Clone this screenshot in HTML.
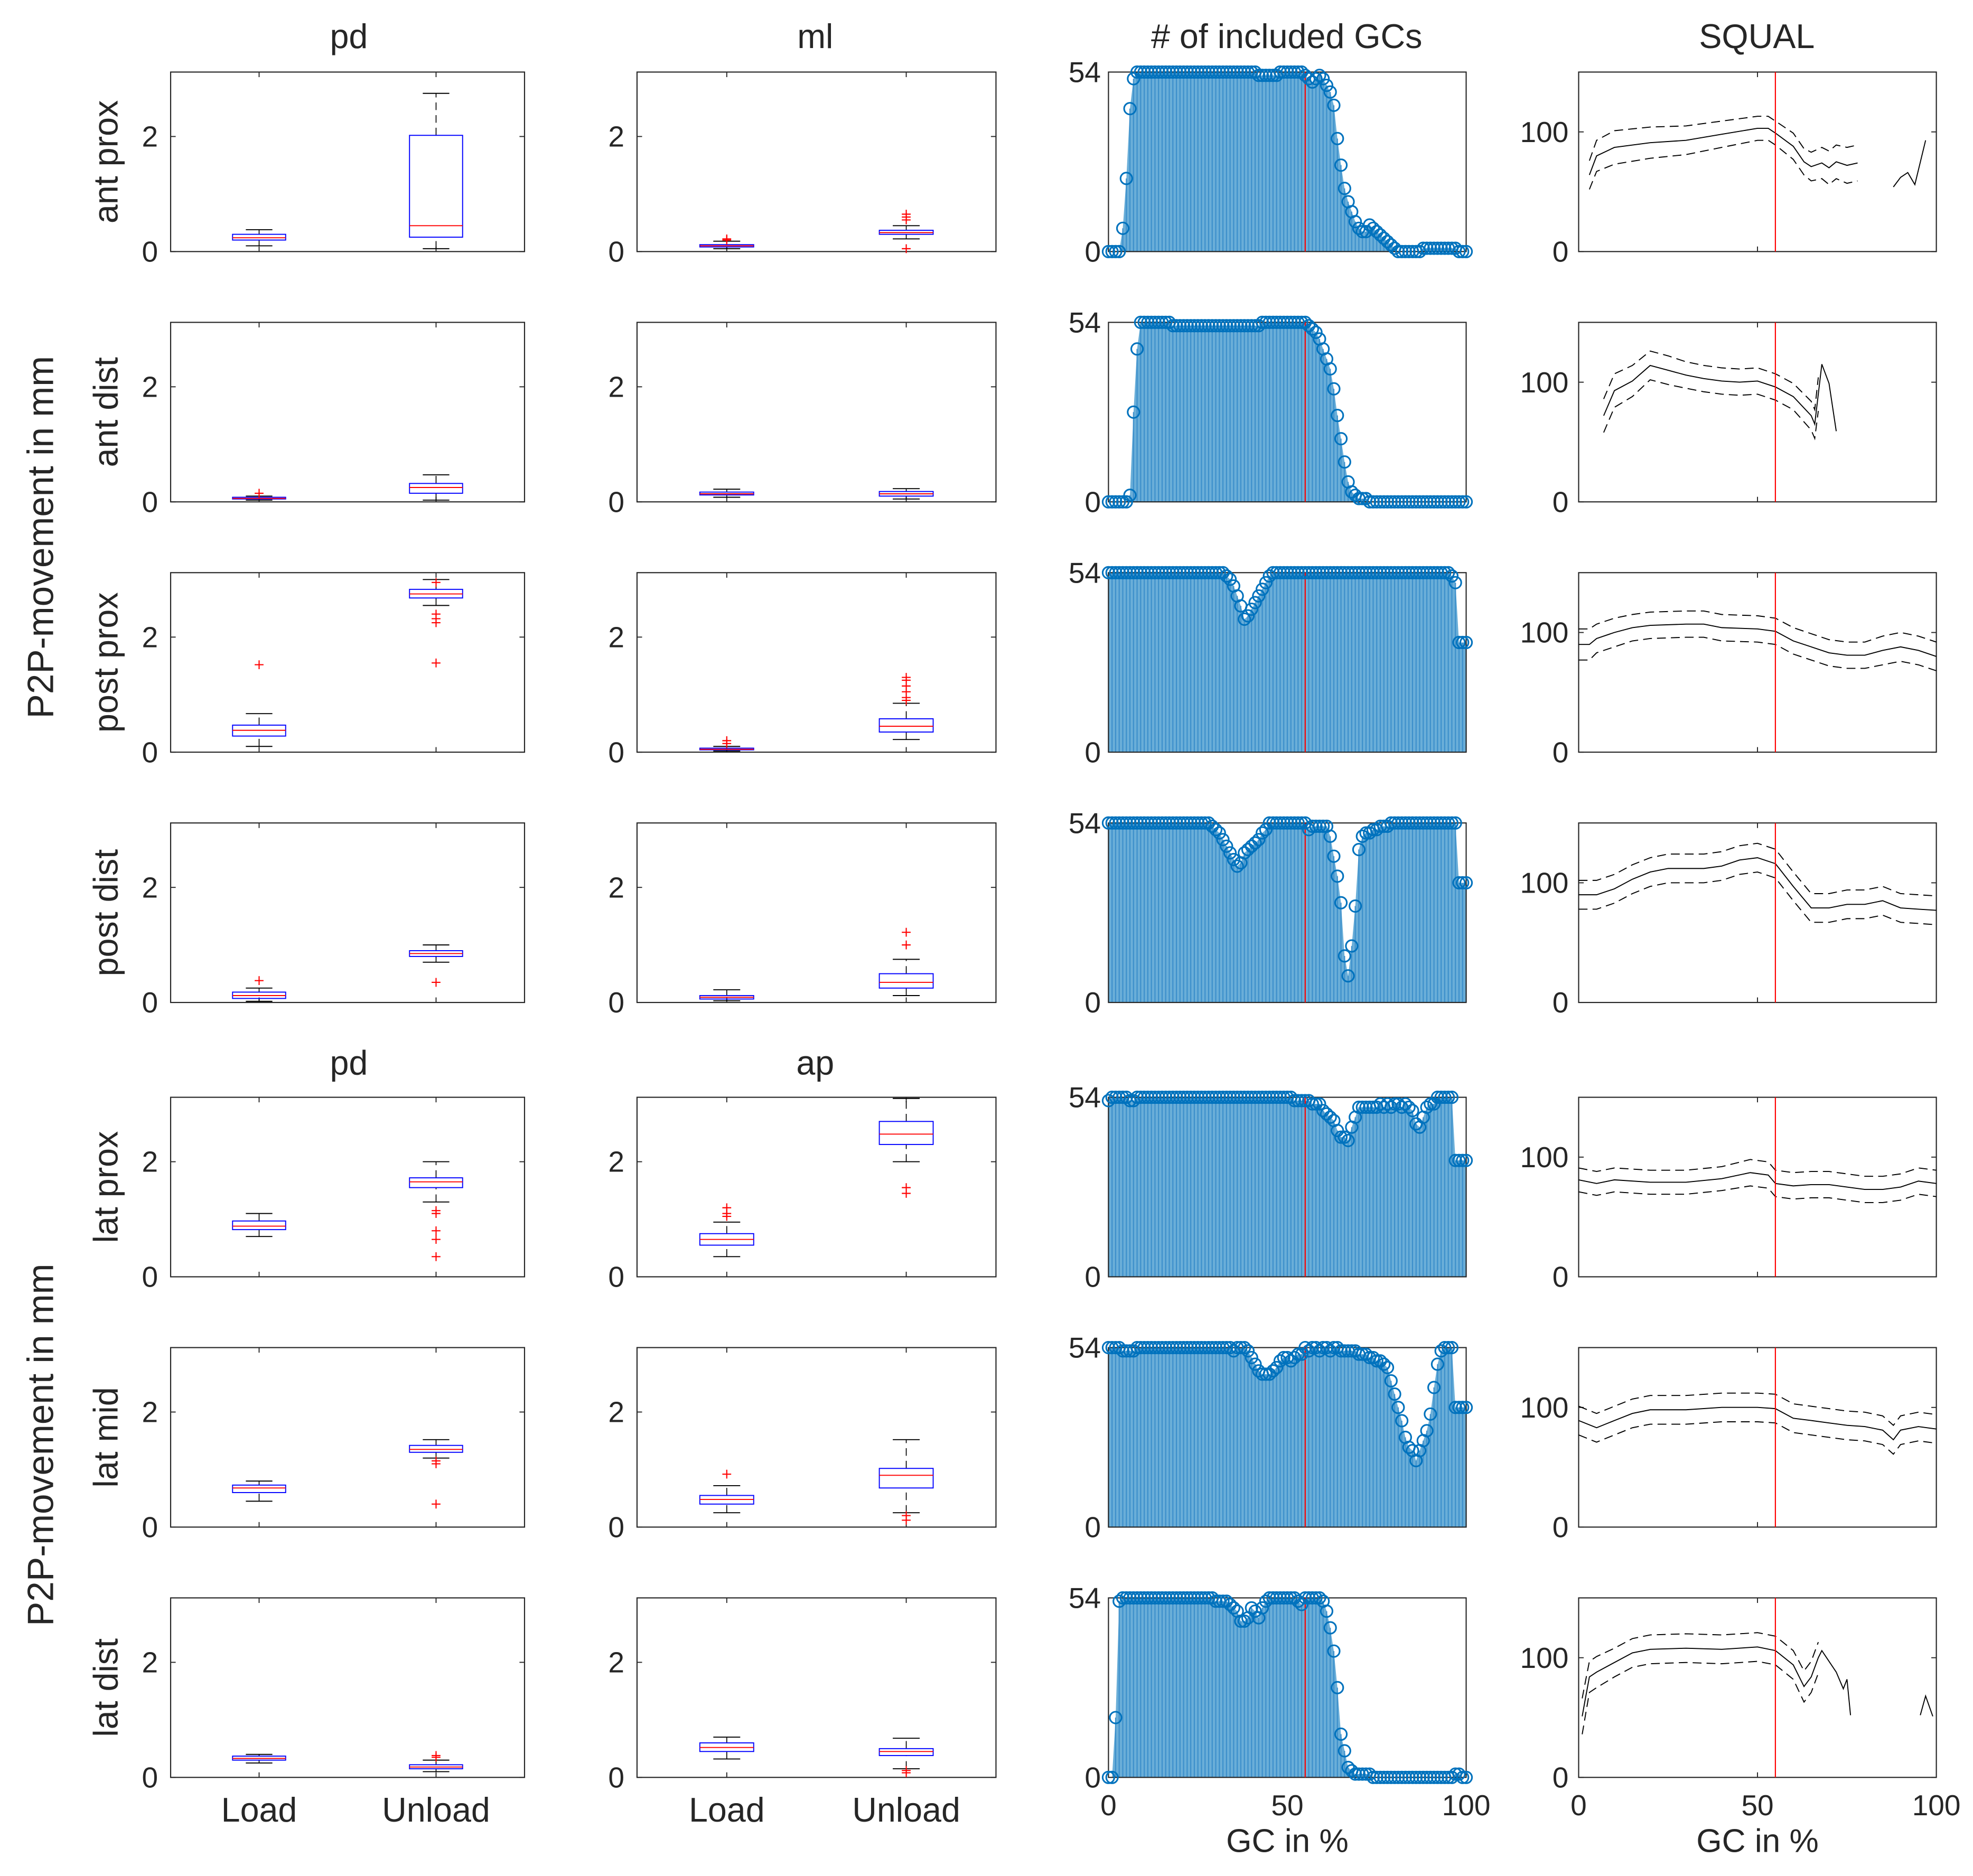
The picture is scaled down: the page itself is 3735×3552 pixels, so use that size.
<!DOCTYPE html>
<html><head><meta charset="utf-8"><style>
html,body{margin:0;padding:0;background:#fff;}
svg{display:block;}
text{font-family:"Liberation Sans",sans-serif;fill:#262626;}
</style></head><body>
<svg id="fig" xmlns="http://www.w3.org/2000/svg" width="3735" height="3552" viewBox="0 0 1561 1484" preserveAspectRatio="none"></svg>
<script>
// ---------- DATA ----------
const boxGroups = ["Load","Unload"];
const boxRowLabels = ["ant prox","ant dist","post prox","post dist","lat prox","lat mid","lat dist"];
// each entry: [lowWhisker, q1, median, q3, highWhisker]
const boxCol1Stats = [
 [[0.10,0.20,0.24,0.30,0.38],[0.05,0.25,0.45,2.02,2.75]],
 [[0.03,0.05,0.06,0.08,0.10],[0.03,0.15,0.25,0.32,0.47]],
 [[0.10,0.28,0.38,0.47,0.67],[2.55,2.68,2.75,2.83,3.00]],
 [[0.02,0.07,0.12,0.18,0.25],[0.70,0.80,0.85,0.90,1.00]],
 [[0.70,0.82,0.88,0.97,1.10],[1.30,1.55,1.65,1.72,2.00]],
 [[0.45,0.60,0.68,0.73,0.80],[1.20,1.30,1.35,1.42,1.52]],
 [[0.25,0.30,0.33,0.37,0.40],[0.10,0.15,0.18,0.22,0.30]]
];
const boxCol1Outliers = [
 [[],[]],[[0.15],[]],[[1.52],[1.55,2.25,2.32,2.40,2.95]],[[0.38],[0.35]],
 [[],[0.35,0.65,0.80,1.10,1.15]],[[],[0.40,1.10,1.15]],[[],[0.35,0.38]]
];
const boxCol2Stats = [
 [[0.05,0.08,0.10,0.12,0.18],[0.22,0.30,0.33,0.37,0.45]],
 [[0.08,0.12,0.14,0.17,0.22],[0.05,0.10,0.14,0.18,0.23]],
 [[0.02,0.04,0.05,0.07,0.10],[0.22,0.35,0.45,0.58,0.85]],
 [[0.03,0.06,0.09,0.12,0.22],[0.12,0.25,0.35,0.50,0.75]],
 [[0.35,0.55,0.65,0.75,0.95],[2.00,2.30,2.48,2.70,3.10]],
 [[0.25,0.40,0.48,0.55,0.72],[0.25,0.68,0.90,1.02,1.52]],
 [[0.32,0.45,0.52,0.60,0.70],[0.15,0.38,0.45,0.50,0.68]]
];
const boxCol2Outliers = [
 [[0.20,0.22],[0.05,0.55,0.60,0.65]],[[],[]],[[0.15,0.20],[0.90,0.95,1.05,1.15,1.25,1.30]],
 [[],[1.00,1.22]],[[1.05,1.10,1.20],[1.45,1.55]],[[0.92],[0.12,0.20]],[[],[0.08,0.12]]
];
const boxYTicks = [0,2];
// number of included GCs, index = GC % (0..100)
const gcRow1 = [0,0,0,0,7,22,43,52,54,54,54,54,54,54,54,54,54,54,54,54,54,54,54,54,54,54,54,54,54,54,54,54,54,54,54,54,54,54,54,54,54,54,53,53,53,53,53,53,54,54,54,54,54,54,54,53,52,51,52,53,52,50,48,44,34,26,19,15,12,9,7,6,6,8,7,6,5,4,3,2,1,0,0,0,0,0,0,0,1,1,1,1,1,1,1,1,1,1,0,0,0];
const gcRow2 = [0,0,0,0,0,0,2,27,46,54,54,54,54,54,54,54,54,54,53,53,53,53,53,53,53,53,53,53,53,53,53,53,53,53,53,53,53,53,53,53,53,53,53,54,54,54,54,54,54,54,54,54,54,54,54,54,53,52,51,49,46,43,40,34,26,19,12,6,3,2,1,1,1,0,0,0,0,0,0,0,0,0,0,0,0,0,0,0,0,0,0,0,0,0,0,0,0,0,0,0,0];
const gcRow3 = [54,54,54,54,54,54,54,54,54,54,54,54,54,54,54,54,54,54,54,54,54,54,54,54,54,54,54,54,54,54,54,54,54,53,52,50,47,44,40,41,43,45,47,49,51,53,54,54,54,54,54,54,54,54,54,54,54,54,54,54,54,54,54,54,54,54,54,54,54,54,54,54,54,54,54,54,54,54,54,54,54,54,54,54,54,54,54,54,54,54,54,54,54,54,54,54,53,51,33,33,33];
const gcRow4 = [54,54,54,54,54,54,54,54,54,54,54,54,54,54,54,54,54,54,54,54,54,54,54,54,54,54,54,54,54,53,52,51,49,47,45,43,41,42,45,46,47,48,49,51,52,54,54,54,54,54,54,54,54,54,54,54,52,53,53,53,53,53,50,44,38,30,14,8,17,29,46,50,51,51,52,52,53,53,53,54,54,54,54,54,54,54,54,54,54,54,54,54,54,54,54,54,54,54,36,36,36];
const gcRow5 = [53,54,54,54,54,54,53,53,54,54,54,54,54,54,54,54,54,54,54,54,54,54,54,54,54,54,54,54,54,54,54,54,54,54,54,54,54,54,54,54,54,54,54,54,54,54,54,54,54,54,54,54,53,53,53,53,53,52,52,52,50,49,48,47,44,42,42,41,45,48,51,51,51,51,51,51,52,51,52,51,52,52,51,52,51,50,46,45,48,51,52,52,54,54,54,54,54,35,35,35,35];
const gcRow6 = [54,54,54,54,53,53,53,53,54,54,54,54,54,54,54,54,54,54,54,54,54,54,54,54,54,54,54,54,54,54,54,54,54,54,54,53,54,54,54,53,51,49,47,46,46,46,47,48,50,51,51,50,51,52,52,54,53,54,54,53,54,54,53,54,54,53,53,53,53,53,52,52,52,51,51,50,50,49,48,44,40,36,32,27,24,23,20,23,26,29,34,42,49,53,54,54,54,36,36,36,36];
const gcRow7 = [0,0,18,53,54,54,54,54,54,54,54,54,54,54,54,54,54,54,54,54,54,54,54,54,54,54,54,54,54,54,53,53,53,53,52,51,50,47,47,48,51,50,48,51,53,54,54,54,54,54,54,54,54,53,52,54,54,54,54,54,53,50,45,38,27,13,8,3,2,1,1,1,1,1,0,0,0,0,0,0,0,0,0,0,0,0,0,0,0,0,0,0,0,0,0,0,0,1,1,0,0];
const gcYTicks = [0,54];
const gcXTicks = [0,50,100];
const eventLine = 55;
// SQUAL: per row x (%), mean and spread (dashed = mean ± sd); null = gap
const sqX1 = [3,5,10,20,30,40,50,53,55,60,63,65,68,70,72,75,78,86,88,90,92,94,97];
const sqM1 = [64,80,87,91,93,98,103,103,99,88,75,71,74,70,75,72,74,null,54,62,66,56,93];
const sqS1 = [12,13,14,13,12,11,10,10,10,11,11,12,13,14,14,15,15,null,null,null,null,null,null];
const sqX2 = [7,10,15,20,25,30,35,40,45,50,55,60,65,66,67,68,70,72];
const sqM2 = [72,93,101,114,110,106,103,101,100,101,96,88,72,65,90,115,99,59];
const sqS2 = [14,14,13,12,12,11,11,11,11,11,11,11,12,12,14,null,null,null];
const sqX3 = [0,3,5,10,15,20,30,35,40,50,55,60,65,70,75,80,85,90,95,100];
const sqM3 = [90,90,95,100,104,106,107,107,104,103,101,93,88,83,81,81,85,88,85,80];
const sqS3 = [13,13,12,12,11,11,11,11,11,11,11,11,11,11,11,11,12,12,12,12];
const sqX4 = [0,5,10,15,20,25,30,35,40,45,50,55,60,65,70,75,80,85,90,95,100];
const sqM4 = [90,90,95,103,109,112,112,112,114,119,121,116,97,79,79,82,82,85,79,78,77];
const sqS4 = [12,12,12,12,12,12,12,12,12,12,12,12,12,12,12,12,12,12,12,12,12];
const sqX5 = [0,5,10,20,30,40,48,53,55,60,65,70,75,80,85,90,95,100];
const sqM5 = [81,78,81,79,79,82,87,85,78,76,77,77,75,73,73,75,80,78];
const sqS5 = [10,10,10,10,10,10,11,11,11,11,11,11,11,11,11,11,11,11];
const sqX6 = [0,5,10,15,20,30,40,50,55,60,65,70,75,80,85,88,90,95,100];
const sqM6 = [89,83,89,95,98,98,100,100,99,91,89,87,85,84,81,73,81,84,82];
const sqS6 = [12,12,12,12,12,12,12,12,12,12,12,12,12,12,12,12,12,12,12];
const sqX7 = [1,2,3,5,10,15,20,30,40,50,55,60,63,65,67,68,72,74,75,76,90,95.5,97,99];
const sqM7 = [51,68,84,88,96,104,107,108,107,109,106,94,76,84,100,106,88,74,82,52,null,52,68,51];
const sqS7 = [15,14,13,13,12,12,12,12,12,12,12,12,13,13,13,null,null,null,null,null,null,null,null,null];
const sqYTicks = [0,100];

// ---------- LAYOUT ----------
const svg = document.getElementById('fig');
const NS = 'http://www.w3.org/2000/svg';
const rowTop = [57,255,453,651,868,1066,1264];
const H = 142;
const colX = [[135,415],[504,788],[877,1160],[1249,1532]];
function el(tag, attrs, parent){ const e=document.createElementNS(NS,tag); for(const k in attrs) e.setAttribute(k,attrs[k]); (parent||svg).appendChild(e); return e; }
function txt(s,x,y,size,anchor,parent,rot){ const t=el('text',{x:x,y:y,'font-size':size,'text-anchor':anchor||'middle'},parent); if(rot) t.setAttribute('transform','rotate(-90 '+x+' '+y+')'); t.textContent=s; return t; }

function frame(g,x0,x1,y0){
  const f=el('rect',{x:x0,y:y0,width:x1-x0,height:H,fill:'none',stroke:'#262626','stroke-width':0.9},g);
  
  
}

// Titles
const titles=[["pd",276,38],["ml",645,38],["# of included GCs",1018,38],["SQUAL",1390,38],["pd",276,850],["ap",645,850]];
titles.forEach(t=>{ const e=txt(t[0],t[1],t[2],27,'middle');   });
const y1=txt("P2P-movement in mm",42,425,29,'middle',null,true);  
const y2=txt("P2P-movement in mm",42,1143,29,'middle',null,true);  

// ---------- BOX PLOTS ----------
const statsCols=[boxCol1Stats,boxCol2Stats], outCols=[boxCol1Outliers,boxCol2Outliers];
for(let c=0;c<2;c++){
  const [x0,x1]=colX[c];
  const sx=v=>x0+(v-0.5)/2*(x1-x0);
  for(let r=0;r<7;r++){
    const top=rowTop[r], bot=top+H;
    const sy=v=>bot-v/3.12*H;
    const g=el('g',{});
    
    
    frame(g,x0,x1,top);
    boxYTicks.forEach(v=>{ el('line',{x1:x0,x2:x0+4,y1:sy(v),y2:sy(v),stroke:'#262626','stroke-width':0.8},g); el('line',{x1:x1-4,x2:x1,y1:sy(v),y2:sy(v),stroke:'#262626','stroke-width':0.8},g);
      const t=txt(String(v),x0-10,sy(v)+8,23,'end',g);   });
    [1,2].forEach(p=>{ el('line',{x1:sx(p),x2:sx(p),y1:top,y2:top+4,stroke:'#262626','stroke-width':0.8},g); el('line',{x1:sx(p),x2:sx(p),y1:bot-4,y2:bot,stroke:'#262626','stroke-width':0.8},g); });
    if(c===0){ const t=txt(boxRowLabels[r],x0-42,top+H/2,27,'middle',g,true);   }
    for(let k=0;k<2;k++){
      const s=statsCols[c][r][k], p=k+1, cx=sx(p);
      const hw=0.15/2*(x1-x0), cw=0.075/2*(x1-x0);
      const bg=el('g',{},g);
      
      
      el('line',{x1:cx,x2:cx,y1:sy(s[3]),y2:sy(s[4]),stroke:'#000','stroke-width':0.7,'stroke-dasharray':'6,4'},bg);
      el('line',{x1:cx,x2:cx,y1:sy(s[0]),y2:sy(s[1]),stroke:'#000','stroke-width':0.7,'stroke-dasharray':'6,4'},bg);
      el('line',{x1:cx-cw,x2:cx+cw,y1:sy(s[4]),y2:sy(s[4]),stroke:'#000','stroke-width':0.8},bg);
      el('line',{x1:cx-cw,x2:cx+cw,y1:sy(s[0]),y2:sy(s[0]),stroke:'#000','stroke-width':0.8},bg);
      el('rect',{x:cx-hw,y:sy(s[3]),width:2*hw,height:Math.max(0.5,sy(s[1])-sy(s[3])),fill:'none',stroke:'#0000ff','stroke-width':0.8},bg);
      el('line',{x1:cx-hw,x2:cx+hw,y1:sy(s[2]),y2:sy(s[2]),stroke:'#ff0000','stroke-width':0.8},bg);
      outCols[c][r][k].forEach(v=>{ const y=sy(v);
        const o=el('path',{d:'M'+(cx-3.5)+' '+y+'h7M'+cx+' '+(y-3.5)+'v7',stroke:'#ff0000','stroke-width':0.9,fill:'none'},bg);
          });
    }
    if(r===6){ boxGroups.forEach((gname,k)=>{ const t=txt(gname,sx(k+1),1441,27,'middle',g);   }); }
  }
}

// ---------- GC STEM PLOTS ----------
const gcRows=[gcRow1,gcRow2,gcRow3,gcRow4,gcRow5,gcRow6,gcRow7];
{
  const [x0,x1]=colX[2];
  const sx=v=>x0+v/100*(x1-x0);
  gcRows.forEach((arr,r)=>{
    const top=rowTop[r], bot=top+H;
    const sy=v=>bot-v/54*H;
    const g=el('g',{});
    
    
    let d='M'+sx(0)+' '+bot;
    arr.forEach((v,i)=>{ d+=' L'+sx(i)+' '+sy(v); });
    d+=' L'+sx(arr.length-1)+' '+bot+' Z';
    const a=el('path',{d:d,fill:'#6aaed8',stroke:'none'},g);
     
    arr.forEach((v,i)=>{ el('line',{x1:sx(i),x2:sx(i),y1:bot,y2:sy(v),stroke:'#3c8fcb','stroke-width':0.9},g); });
    frame(g,x0,x1,top);
    const rl=el('line',{x1:sx(eventLine),x2:sx(eventLine),y1:top,y2:bot,stroke:'#ff0000','stroke-width':0.9},g);
     
    arr.forEach((v,i)=>{ const ci=el('circle',{cx:sx(i),cy:sy(v),r:4.6,fill:'none',stroke:'#0072bd','stroke-width':1.3},g);
        });
    gcYTicks.forEach(v=>{ const t=txt(String(v),x0-6,sy(v)+8,23,'end',g);   });
    if(r===6){ gcXTicks.forEach(v=>{ const t=txt(String(v),sx(v),1436,23,'middle',g);   });
      const xl=txt('GC in %',sx(50),1465,26,'middle',g);   }
  });
}

// ---------- SQUAL ----------
const sqXs=[sqX1,sqX2,sqX3,sqX4,sqX5,sqX6,sqX7], sqMs=[sqM1,sqM2,sqM3,sqM4,sqM5,sqM6,sqM7], sqSs=[sqS1,sqS2,sqS3,sqS4,sqS5,sqS6,sqS7];
{
  const [x0,x1]=colX[3];
  const sx=v=>x0+v/100*(x1-x0);
  function linePath(xs,ys,sy){ let d='',pen=false; xs.forEach((x,i)=>{ const y=ys[i]; if(y==null){pen=false;return;} d+=(pen?' L':' M')+sx(x).toFixed(1)+' '+sy(y).toFixed(1); pen=true; }); return d; }
  for(let r=0;r<7;r++){
    const top=rowTop[r], bot=top+H;
    const sy=v=>bot-v/150*H;
    const g=el('g',{});
    
    
    frame(g,x0,x1,top);
    sqYTicks.forEach(v=>{ el('line',{x1:x0,x2:x0+4,y1:sy(v),y2:sy(v),stroke:'#262626','stroke-width':0.8},g); el('line',{x1:x1-4,x2:x1,y1:sy(v),y2:sy(v),stroke:'#262626','stroke-width':0.8},g);
      const t=txt(String(v),x0-8,sy(v)+8,23,'end',g);   });
    el('line',{x1:sx(50),x2:sx(50),y1:top,y2:top+4,stroke:'#262626','stroke-width':0.8},g);
    el('line',{x1:sx(50),x2:sx(50),y1:bot-4,y2:bot,stroke:'#262626','stroke-width':0.8},g);
    const xs=sqXs[r], m=sqMs[r], s=sqSs[r];
    const up=m.map((v,i)=>(v==null||s[i]==null)?null:v+s[i]);
    const lo=m.map((v,i)=>(v==null||s[i]==null)?null:v-s[i]);
    const mp=el('path',{d:linePath(xs,m,sy),fill:'none',stroke:'#000','stroke-width':0.8},g);
     
    const upp=el('path',{d:linePath(xs,up,sy),fill:'none',stroke:'#000','stroke-width':0.8,'stroke-dasharray':'7,4'},g);
     
    const lop=el('path',{d:linePath(xs,lo,sy),fill:'none',stroke:'#000','stroke-width':0.8,'stroke-dasharray':'7,4'},g);
     
    const rl=el('line',{x1:sx(eventLine),x2:sx(eventLine),y1:top,y2:bot,stroke:'#ff0000','stroke-width':0.9},g);
     
    if(r===6){ gcXTicks.forEach(v=>{ const t=txt(String(v),sx(v),1436,23,'middle',g);   });
      const xl=txt('GC in %',sx(50),1465,26,'middle',g);   }
  }
}
</script>
</body></html>
